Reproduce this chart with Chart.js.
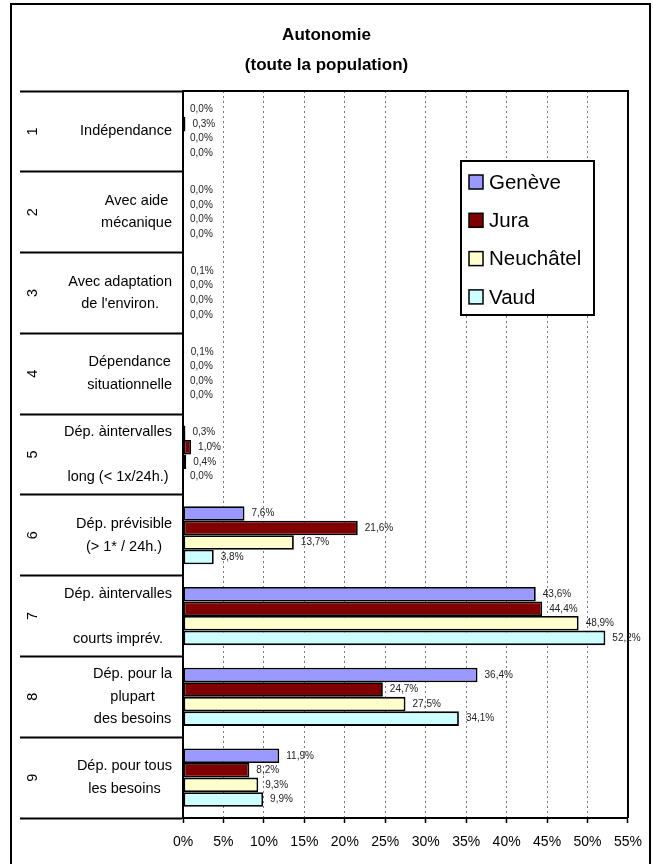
<!DOCTYPE html>
<html>
<head>
<meta charset="utf-8">
<script src="https://cdn.jsdelivr.net/npm/chart.js@4.4.1/dist/chart.umd.min.js"></script>
<style>
  html, body { margin: 0; padding: 0; background: #ffffff; }
  #c { display: block; }
</style>
</head>
<body>
<canvas id="c" width="653" height="864"></canvas>
<script>
// Autonomy levels (rows) and their descriptions
const categoryNumbers = ['1', '2', '3', '4', '5', '6', '7', '8', '9'];
const categoryLines = [
  ['Indépendance'],
  ['Avec aide', 'mécanique'],
  ['Avec adaptation', "de l'environ."],
  ['Dépendance', 'situationnelle'],
  ['Dép. àintervalles', '', 'long (< 1x/24h.)'],
  ['Dép. prévisible', '(> 1* / 24h.)'],
  ['Dép. àintervalles', '', 'courts imprév.'],
  ['Dép. pour la', 'plupart', 'des besoins'],
  ['Dép. pour tous', 'les besoins']
];

// Share of the population per canton (%)
const seriesNames = ['Genève', 'Jura', 'Neuchâtel', 'Vaud'];
const geneve    = [0.0, 0.0, 0.1, 0.1, 0.3,  7.6, 43.6, 36.4, 11.9];
const jura      = [0.3, 0.0, 0.0, 0.0, 1.0, 21.6, 44.4, 24.7,  8.2];
const neuchatel = [0.0, 0.0, 0.0, 0.0, 0.4, 13.7, 48.9, 27.5,  9.3];
const vaud      = [0.0, 0.0, 0.0, 0.0, 0.0,  3.8, 52.2, 34.1,  9.9];

// Value axis
const xMin = 0, xMax = 55, xStep = 5;

const FONT = "'Liberation Sans', Arial, Helvetica, sans-serif";
const seriesColors = ['#9999FF', '#800000', '#FFFFCC', '#CCFFFF'];
const seriesValues = [geneve, jura, neuchatel, vaud];

const fmtPct = v => v.toFixed(1).replace('.', ',') + '%';

// Frame around the whole figure and around the plotting area
const framePlugin = {
  id: 'frame',
  beforeDraw(chart) {
    const ctx = chart.ctx;
    ctx.save();
    ctx.fillStyle = '#ffffff';
    ctx.fillRect(0, 0, chart.width, chart.height);
    ctx.restore();
  },
  afterDatasetsDraw(chart) {
    const {ctx, chartArea: a} = chart;
    ctx.save();
    ctx.strokeStyle = '#000';
    ctx.lineWidth = 2;
    ctx.beginPath();
    ctx.moveTo(a.left, a.top);
    ctx.lineTo(a.right, a.top);
    ctx.lineTo(a.right, a.bottom);
    ctx.stroke();
    ctx.restore();
  },
  afterDraw(chart) {
    const ctx = chart.ctx;
    ctx.save();
    ctx.strokeStyle = '#000';
    ctx.lineWidth = 2;
    ctx.strokeRect(11, 4, 639, chart.height + 10);
    ctx.restore();
  }
};

// Two-level category labels: rotated level number + wrapped description
const categoryLabelPlugin = {
  id: 'categoryLabels',
  afterDraw(chart) {
    const ctx = chart.ctx;
    const y = chart.scales.y;
    ctx.save();
    ctx.fillStyle = '#000';
    ctx.font = '14.5px ' + FONT;
    ctx.textBaseline = 'middle';
    const lineGap = 22.5;
    const rightEdge = 172;
    categoryLines.forEach((lines, i) => {
      const cy = y.getPixelForValue(i);
      // level number, read bottom-to-top
      ctx.save();
      ctx.translate(33, cy);
      ctx.rotate(-Math.PI / 2);
      ctx.textAlign = 'center';
      ctx.fillText(categoryNumbers[i], 0, 0);
      ctx.restore();
      // description lines centered inside a right-aligned block
      const maxW = Math.max(...lines.map(l => ctx.measureText(l).width));
      const cx = rightEdge - maxW / 2;
      ctx.textAlign = 'center';
      lines.forEach((l, k) => {
        const ly = cy + (k - (lines.length - 1) / 2) * lineGap;
        if (l) ctx.fillText(l, cx, ly);
      });
    });
    ctx.restore();
  }
};

// Value labels at the end of each bar
const valueLabelPlugin = {
  id: 'valueLabels',
  afterDatasetsDraw(chart) {
    const ctx = chart.ctx;
    ctx.save();
    ctx.font = '10px ' + FONT;
    ctx.fillStyle = '#222';
    ctx.textAlign = 'left';
    ctx.textBaseline = 'middle';
    chart.data.datasets.forEach((ds, di) => {
      const meta = chart.getDatasetMeta(di);
      meta.data.forEach((bar, i) => {
        ctx.fillText(fmtPct(ds.data[i]), bar.x + 7, bar.y);
      });
    });
    ctx.restore();
  }
};

// Boxed legend floating inside the plotting area
const boxLegendPlugin = {
  id: 'boxLegend',
  afterDraw(chart) {
    const ctx = chart.ctx;
    const bx = 461, by = 161, bw = 133, bh = 154;
    ctx.save();
    ctx.fillStyle = '#fff';
    ctx.fillRect(bx, by, bw, bh);
    ctx.strokeStyle = '#000';
    ctx.lineWidth = 2;
    ctx.strokeRect(bx, by, bw, bh);
    ctx.font = '20.5px ' + FONT;
    ctx.textBaseline = 'middle';
    ctx.textAlign = 'left';
    chart.data.datasets.forEach((ds, i) => {
      const cy = by + 21 + i * 38.3;
      ctx.fillStyle = ds.backgroundColor;
      ctx.fillRect(469, cy - 7, 14, 14);
      ctx.lineWidth = 1.5;
      ctx.strokeStyle = '#000';
      ctx.strokeRect(469, cy - 7, 14, 14);
      ctx.fillStyle = '#000';
      ctx.fillText(ds.label, 489, cy + 1);
    });
    ctx.restore();
  }
};

new Chart(document.getElementById('c'), {
  type: 'bar',
  data: {
    labels: categoryNumbers,
    datasets: seriesNames.map((name, i) => ({
      label: name,
      data: seriesValues[i],
      backgroundColor: seriesColors[i],
      borderColor: '#000',
      borderWidth: 1.8,
      borderSkipped: false,
      categoryPercentage: 0.72,
      barPercentage: 1.0
    }))
  },
  options: {
    indexAxis: 'y',
    responsive: false,
    animation: false,
    devicePixelRatio: 1,
    layout: { padding: { left: 25, right: 25, top: 0, bottom: 0 } },
    plugins: {
      legend: { display: false },
      tooltip: { enabled: false },
      title: {
        display: true,
        text: ['Autonomie', '(toute la population)'],
        color: '#000',
        font: { family: FONT, size: 17, weight: 'bold', lineHeight: '30px' },
        padding: { top: 20, bottom: 11 }
      }
    },
    scales: {
      x: {
        type: 'linear',
        min: xMin,
        max: xMax,
        afterFit(s) { s.height = 46; },
        ticks: {
          stepSize: xStep,
          color: '#000',
          font: { family: FONT, size: 14 },
          padding: 11,
          maxRotation: 0,
          callback: v => v + '%'
        },
        grid: {
          color: ctx => (ctx.tick && (ctx.tick.value === xMin || ctx.tick.value === xMax)) ? 'rgba(0,0,0,0)' : '#7a7a7a',
          lineWidth: 1,
          tickColor: '#000',
          tickWidth: 1.5,
          tickLength: 5
        },
        border: { display: true, color: '#000', width: 2, dash: [2, 3] }
      },
      y: {
        type: 'category',
        afterFit(s) { s.width = 158; },
        ticks: { display: false },
        grid: {
          offset: true,
          drawOnChartArea: false,
          drawTicks: true,
          tickLength: 163,
          tickColor: '#000',
          tickWidth: 2,
          color: '#000'
        },
        border: { display: true, color: '#000', width: 2 }
      }
    }
  },
  plugins: [framePlugin, valueLabelPlugin, categoryLabelPlugin, boxLegendPlugin]
});
</script>
</body>
</html>
